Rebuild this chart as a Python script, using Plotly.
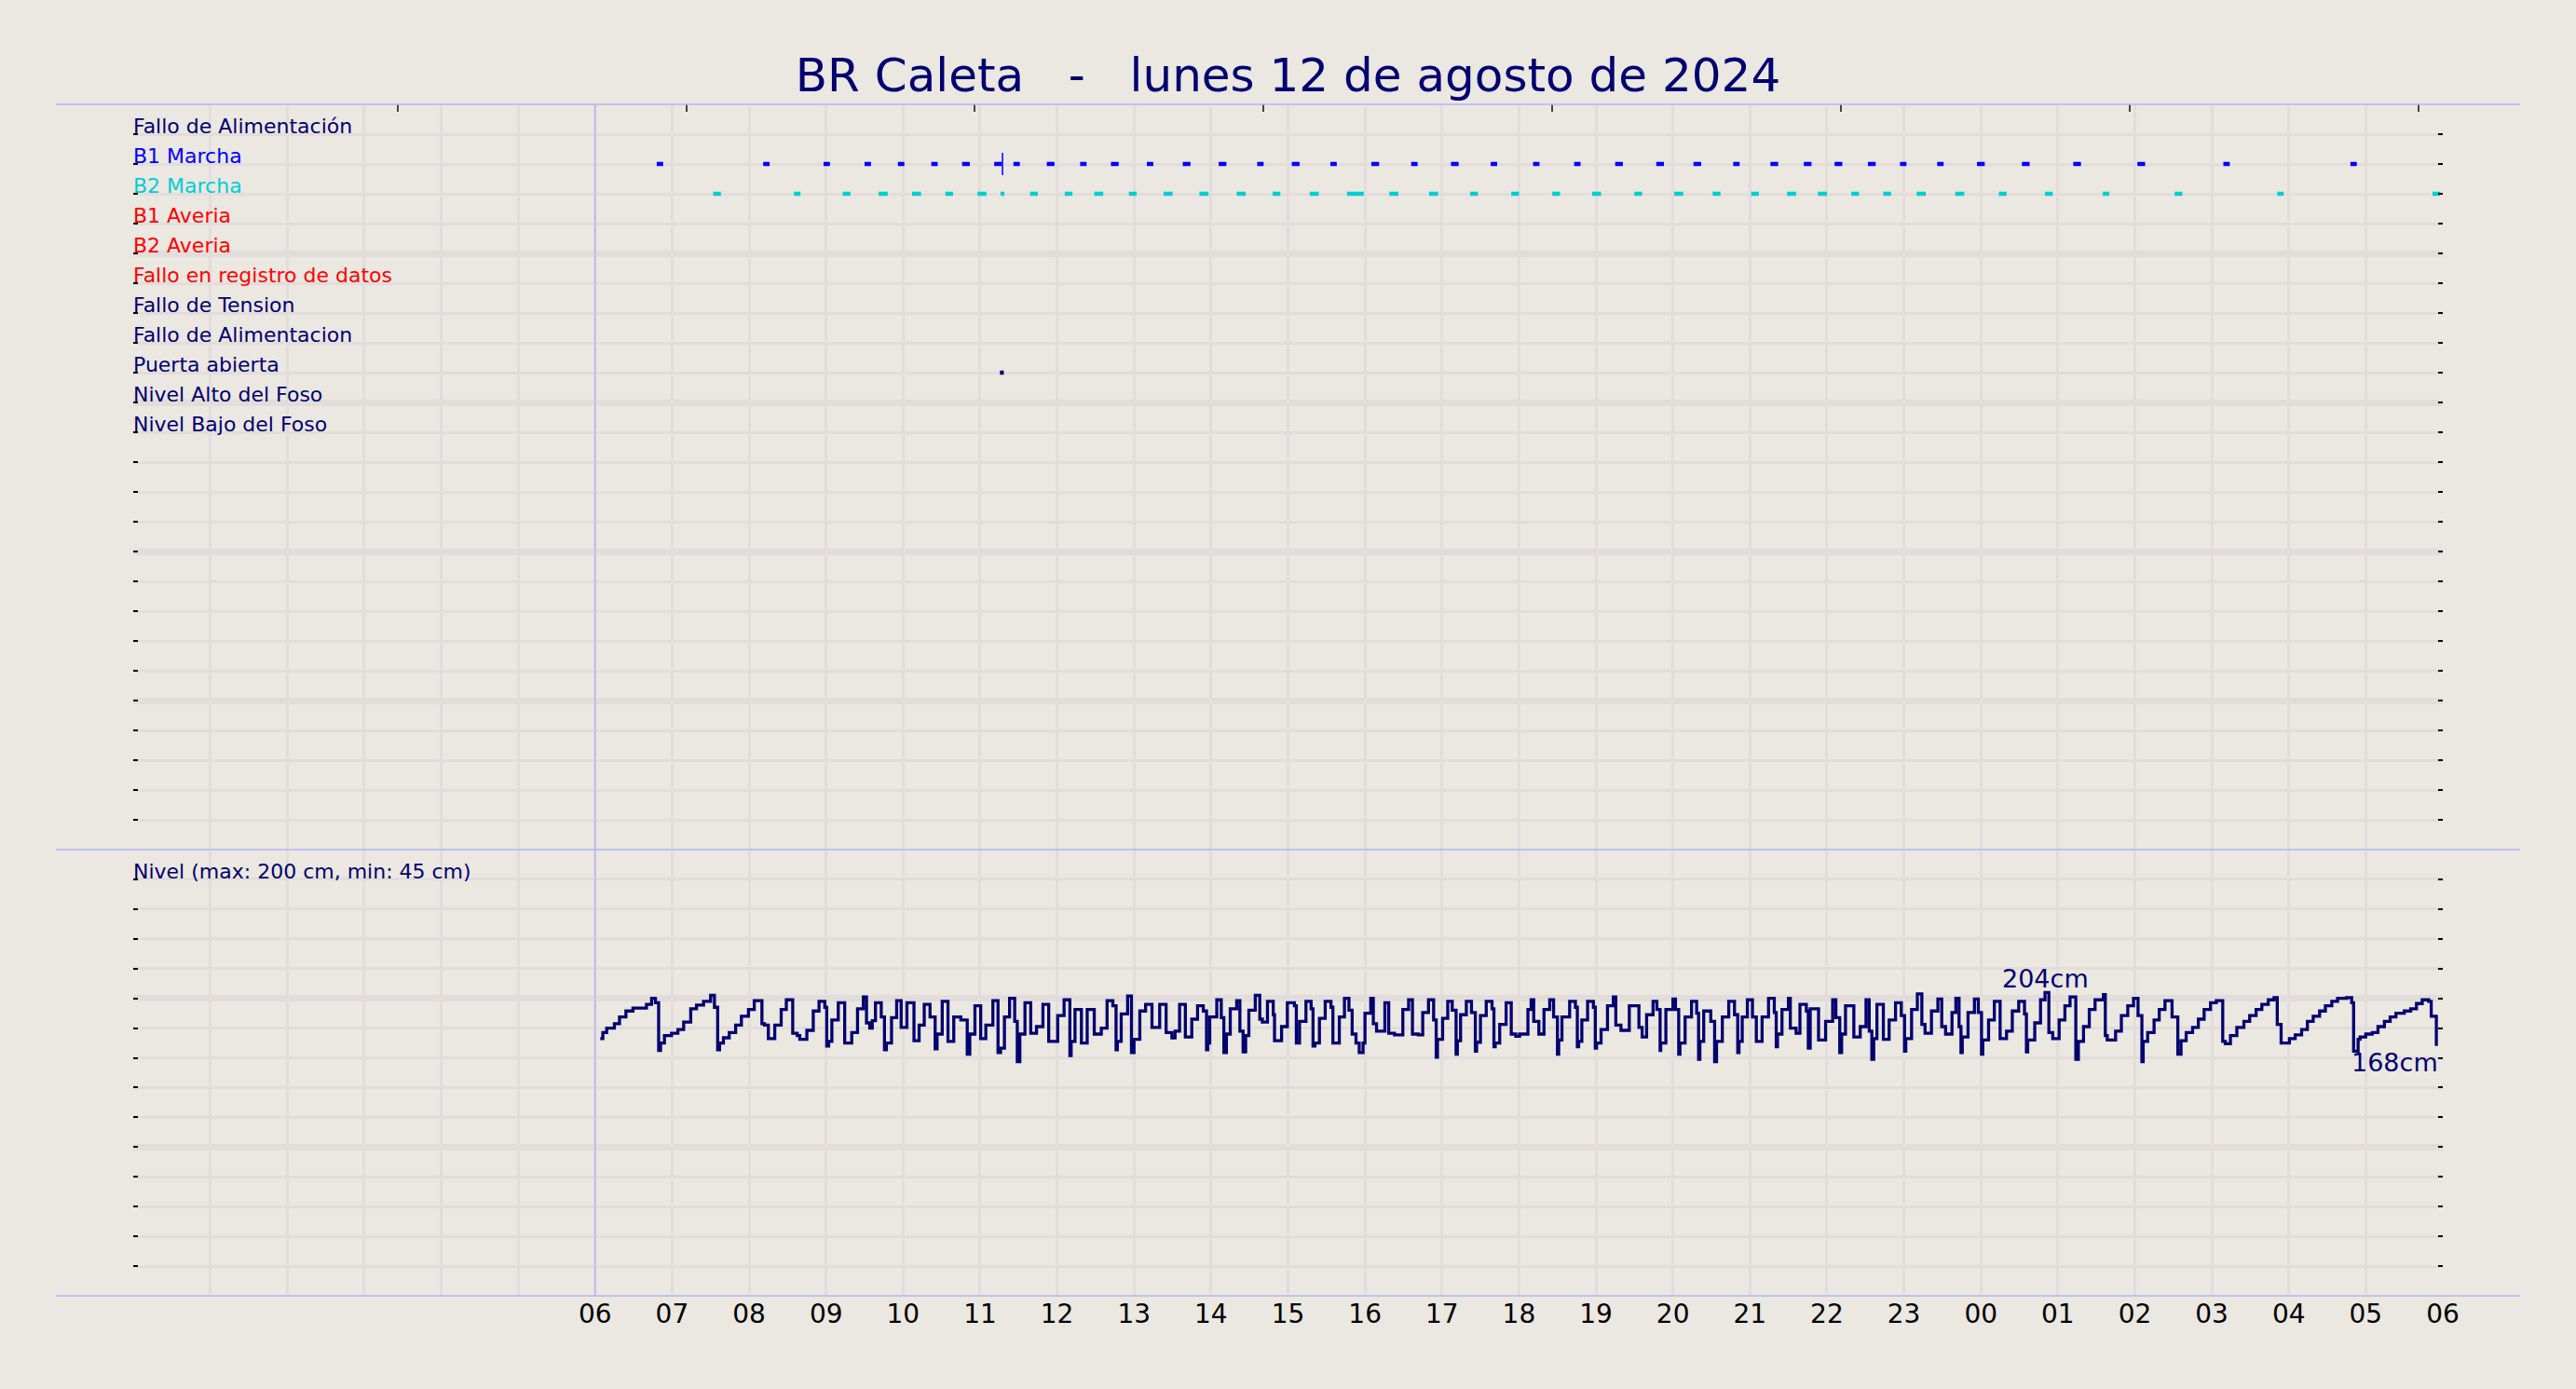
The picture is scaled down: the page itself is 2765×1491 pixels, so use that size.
import pandas as pd
import plotly.graph_objects as go

NAVY = "#000070"
AZUL = "#0000ff"
CIAN = "#00ced1"
ROJO = "#ff0000"
FONDO = "#ebe7e1"
REJILLA = "#e2dddb"
LINEA = "#b4b4f5"

# Filas del panel superior (fila 1 arriba)
filas = ["Fallo de Alimentación", "B1 Marcha", "B2 Marcha", "B1 Averia", "B2 Averia",
         "Fallo en registro de datos", "Fallo de Tension", "Fallo de Alimentacion",
         "Puerta abierta", "Nivel Alto del Foso", "Nivel Bajo del Foso"]
colores_filas = [NAVY, AZUL, CIAN, ROJO, ROJO, ROJO, NAVY, NAVY, NAVY, NAVY, NAVY]

# Eventos, en minutos desde las 06:00
b1_inicio = [48, 131, 178, 210, 236, 262, 286, 311, 326, 352, 378, 402, 430, 458, 486, 516, 543, 573, 605, 636,
             667, 698, 731, 763, 795, 827, 856, 887, 916, 942, 966, 992, 1017, 1046, 1077, 1112, 1152, 1202, 1269, 1368]
b1_fin = [53, 136, 183, 215, 241, 267, 292, 317, 331, 358, 383, 408, 435, 464, 492, 521, 549, 578, 611, 641,
          673, 703, 736, 768, 801, 833, 862, 892, 922, 948, 972, 998, 1022, 1051, 1083, 1118, 1158, 1208, 1274, 1373]
b2_inicio = [92, 155, 193, 221, 247, 273, 298, 316, 339, 366, 389, 416, 443, 471, 500, 528, 557, 586, 619, 650,
             682, 714, 746, 777, 810, 841, 871, 901, 929, 953, 979, 1004, 1030, 1060, 1094, 1130, 1175, 1231, 1311, 1432]
b2_fin = [98, 160, 199, 228, 254, 279, 305, 319, 345, 372, 396, 422, 450, 478, 507, 534, 564, 599, 626, 657,
          688, 720, 752, 784, 816, 848, 877, 907, 936, 960, 985, 1010, 1037, 1067, 1100, 1136, 1180, 1237, 1316, 1438]
b1_marca = [317.5]
puerta_inicio = [315.5]
puerta_fin = [318.5]

# Nivel del foso (minuto desde las 06:00, cm)
nivel_manana = [
    (4, 173), (6, 177), (9, 180), (15, 183), (19, 187.5), (24, 191.5), (29.5, 193.5), (40, 196), (44, 200), (47, 197),
    (49.5, 165), (51, 170), (54, 175), (59.5, 176.5), (64.5, 179), (69, 184), (74.5, 193), (79, 195.5), (84.5, 198), (90, 202),
    (93, 194), (95.5, 165.5), (97, 170), (100, 173.5), (104.5, 177), (109.5, 182), (114, 188), (119.5, 192.5), (124, 198.5), (130, 183),
    (132, 182), (135, 173), (140, 182), (145, 192.5), (149, 199), (154, 176.5), (157.5, 175), (159.5, 172.5), (165, 178.5), (170, 191.5),
    (174.5, 198), (179, 194), (180.5, 168), (182, 171), (184.5, 185.5), (189.5, 197), (194.5, 170), (200, 177), (204.5, 193), (209, 201),
    (211.5, 183.5), (214, 180), (216, 185), (218.5, 197), (223, 187.5), (225.5, 165.5), (227, 170), (231, 187), (235, 198.5), (238.5, 180.5),
    (243, 197), (248.5, 171.5), (252.5, 182), (256.5, 196), (261, 187.5), (265, 166), (266.5, 176), (270.5, 198), (275, 171), (279.5, 187.5),
    (285, 185.5), (290, 162.5), (292, 176), (296, 195), (300.5, 173), (304.5, 182), (310, 198.5), (314, 163.5), (316, 166.5), (319, 187.5),
    (323, 200), (327, 184.5), (329, 157.5), (331, 176), (335, 197), (339.5, 176.5), (344, 181), (349, 196), (353.5, 171), (360.5, 188.5),
    (365.5, 199), (370, 161.5), (371, 171), (374, 192.5), (379, 170), (383.5, 192.5), (389, 176), (394.5, 180), (399, 198.5), (403.5, 195),
    (406, 165.5), (407, 171), (410, 189.5), (415, 201.5), (418, 163.5), (420, 172.5), (424.5, 191.5), (429, 196), (434, 180.5), (440, 196),
    (445, 177), (449.5, 173.5), (452, 178), (455.5, 196), (460, 174), (465, 186), (469.5, 195), (474, 191.5), (476.5, 165.5),
]
nivel_tarde = [
    (477.5, 170), (479, 187.5), (484.5, 199), (488, 187), (490, 163.5), (492, 176), (495, 193), (500, 198.5), (502.5, 178), (505, 164),
    (507, 175), (509.5, 192), (514.5, 202), (518, 186), (520, 184), (524, 198), (528.5, 189), (529.5, 171.5), (535, 181), (539.5, 197),
    (545, 195), (546.5, 170), (549, 184.5), (554, 198), (558, 193), (559.5, 168), (561, 170), (564.5, 186.5), (569, 198), (573.5, 194),
    (575, 170), (580, 187.5), (584, 200), (587.5, 192), (590, 176), (593, 170), (595.5, 163.5), (598.5, 170), (600, 190), (604.5, 200),
    (606.5, 183), (609, 178), (615.5, 197), (618.5, 176.5), (623, 175.5), (629.5, 192.5), (634, 199), (637, 176), (641.5, 175.5), (645, 190.5),
    (649.5, 199), (653.5, 185.5), (655.5, 160.5), (656.5, 172.5), (660.5, 186.5), (664.5, 198), (668, 192), (671, 162.5), (672, 171.5), (674.5, 189),
    (679, 198), (683, 190.5), (686, 164.5), (687, 170.5), (690, 188.5), (694.5, 198), (699, 193), (700.5, 167.5), (701.5, 170), (705, 182.5),
    (710, 197), (714, 176), (717.5, 174.5), (720.5, 176), (727, 192.5), (729.5, 199), (731.5, 184.5), (735.5, 176), (739.5, 192.5), (744, 199),
    (747, 187.5), (750, 162.5), (751, 172), (753.5, 187.5), (759.5, 198), (764, 194), (765.5, 167.5), (766.5, 171), (769, 185.5), (773.5, 198),
    (778, 194), (779.5, 166.5), (780.5, 170), (784, 179), (789, 195), (793.5, 201), (795.5, 182), (799.5, 178.5), (806, 195), (813.5, 180.5),
    (816, 174), (819.5, 189), (824.5, 198), (827.5, 192.5), (830, 165), (830.5, 170), (834.5, 192.5), (840, 199.5), (842, 192.5), (844.5, 162.5),
    (845.5, 170), (849.5, 187.5), (854.5, 198), (858.5, 190), (860, 159), (861, 171), (864, 191.5), (869.5, 184.5), (872.5, 157.5), (874, 171),
    (878.5, 187.5), (883.5, 198), (888, 189), (890.5, 163.5), (891.5, 171), (894, 187.5), (898, 199), (902, 187.5), (905, 171), (909.5, 187.5),
    (914.5, 200), (919, 190.5), (920.5, 167.5), (921.5, 176), (925, 192.5), (930, 200), (931.5, 180), (936, 176.5), (939, 196), (944, 191.5),
    (945.5, 166.5), (947, 193),
]
nivel_noche = [
    (953.5, 172), (959, 184.5), (964.5, 199), (967, 187), (970, 163.5), (971.5, 176), (974.5, 195), (981, 174), (986, 181), (990.5, 199),
    (993, 178), (995, 159), (996.5, 173), (999, 196), (1004, 172.5), (1008.5, 185.5), (1013.5, 197), (1018, 188.5), (1020.5, 164.5), (1021.5, 173),
    (1026, 192.5), (1030.5, 203), (1034, 182.5), (1036.5, 176.5), (1041.5, 191.5), (1046.5, 199.5), (1049.5, 181), (1052.5, 176), (1057.5, 190.5), (1060.5, 200),
    (1063, 181), (1064.5, 163.5), (1065.5, 174), (1070, 190.5), (1075, 199.5), (1078, 190.5), (1080.5, 162.5), (1081.5, 172), (1086, 185.5), (1090.5, 198),
    (1095, 173), (1100, 178), (1104.5, 191.5), (1109.5, 198), (1114, 189.5), (1115.5, 164), (1116.5, 172), (1122, 183.5), (1126.5, 199), (1130, 204),
    (1133, 177), (1136, 173), (1141, 185.5), (1145.5, 195), (1149.5, 201), (1154, 159), (1156, 171), (1160, 181), (1164.5, 192.5), (1169, 199),
    (1175.5, 202.5), (1177, 175), (1178.5, 172), (1185, 178), (1189.5, 188.5), (1194.5, 195), (1199, 200), (1202.5, 188.5), (1205.5, 157.5), (1206.5, 171),
    (1210, 177), (1215, 185.5), (1219, 192.5), (1223.5, 198.5), (1229, 187.5), (1233.5, 162.5), (1236, 171.5), (1240, 177), (1245, 180.5), (1249.5, 186),
    (1254, 192.5), (1259, 197), (1263.5, 198.5), (1268.5, 171), (1270.5, 169.5), (1274.5, 175), (1279.5, 180.5), (1285, 184.5), (1289.5, 188.5), (1294.5, 192.5),
    (1299, 196), (1304, 199), (1308.5, 200.5), (1311, 182.5), (1314, 170), (1320.5, 173), (1325, 175.5), (1330, 179), (1334.5, 184.5), (1339, 188),
    (1344, 191.5), (1348.5, 195), (1353.5, 198), (1358, 200), (1365, 200.5), (1369, 197), (1370.5, 164.5), (1374, 172.5), (1375.5, 174), (1380, 176),
    (1385, 177), (1389.5, 181), (1394.5, 184.5), (1399, 187.5), (1403.5, 190), (1410, 191.5), (1415, 193), (1419.5, 196.5), (1424, 199), (1429, 198),
    (1431, 188), (1435, 168),
]

# Eje horario: 00:00 del dia 12 a 06:00 del dia 13, etiquetas solo desde las 06
horas = ["", "", "", "", "", "", "06", "07", "08", "09", "10", "11", "12", "13", "14", "15", "16",
         "17", "18", "19", "20", "21", "22", "23", "00", "01", "02", "03", "04", "05", "06"]
# marcas del borde superior, minutos desde las 00:00
marcas_sup = [206, 431, 656, 881, 1106, 1331, 1556, 1781]

base = pd.Timestamp("2024-08-12 06:00")
origen = pd.Timestamp("2024-08-12 00:00")


def hora(minutos, desde=base):
    return (desde + pd.to_timedelta(minutos, unit="min")).strftime("%Y-%m-%d %H:%M:%S")


def segmentos(inicios, fines, fila):
    xs, ys = [], []
    for a, b in zip(inicios, fines):
        xs += [hora(a), hora(b), None]
        ys += [fila, fila, None]
    return xs, ys


nivel = nivel_manana + nivel_tarde + nivel_noche
nivel_x = [hora(m) for m, _ in nivel]
nivel_y = [v for _, v in nivel]

fig = go.Figure()

for ini, fin, fila, color in [(b1_inicio, b1_fin, 2, AZUL), (b2_inicio, b2_fin, 3, CIAN),
                              (puerta_inicio, puerta_fin, 9, NAVY)]:
    sx, sy = segmentos(ini, fin, fila)
    fig.add_trace(go.Scatter(x=sx, y=sy, mode="lines", line=dict(color=color, width=4.5),
                             xaxis="x", yaxis="y", showlegend=False, hoverinfo="skip"))

fig.add_trace(go.Scatter(x=[hora(m) for m in b1_marca], y=[2] * len(b1_marca), mode="markers",
                         marker=dict(symbol="line-ns", size=17, line=dict(color=AZUL, width=1.5)),
                         xaxis="x", yaxis="y", showlegend=False, hoverinfo="skip"))

# traza vacia para el eje de marcas superiores
fig.add_trace(go.Scatter(x=[], y=[], xaxis="x3", yaxis="y", showlegend=False))

fig.add_trace(go.Scatter(x=nivel_x, y=nivel_y, mode="lines", line=dict(color=NAVY, width=3.3, shape="hv"),
                         xaxis="x2", yaxis="y2", showlegend=False))

rango = [origen.strftime("%Y-%m-%d %H:%M"), "2024-08-13 06:00"]
ticks_horas = [hora(60 * i, origen) for i in range(len(horas))]
corte = 479 / 1279

eje_x = dict(type="date", range=rango, showgrid=True, gridcolor=REJILLA, gridwidth=2.5,
             zeroline=False, showline=False, fixedrange=True)
eje_y = dict(showticklabels=False, zeroline=False, showline=False, ticks="inside", ticklen=5,
             tickwidth=2, tickcolor="black", mirror="ticks", gridcolor=REJILLA, gridwidth=7)
menor = dict(ticks="inside", ticklen=5, tickwidth=2, tickcolor="black", showgrid=True,
             gridcolor=REJILLA, gridwidth=2.5)

fig.update_layout(
    width=2765, height=1491,
    paper_bgcolor=FONDO, plot_bgcolor=FONDO,
    font=dict(family="DejaVu Sans", color=NAVY),
    margin=dict(l=143, r=143, t=112, b=100),
    title=dict(text="BR Caleta\u00a0\u00a0\u00a0-\u00a0\u00a0\u00a0lunes 12 de agosto de 2024",
               x=0.5, xanchor="center", y=1 - 80 / 1491, yanchor="middle",
               font=dict(size=50, color=NAVY)),
    xaxis=dict(eje_x, anchor="y", tickmode="array", tickvals=ticks_horas, showticklabels=False, ticks=""),
    xaxis2=dict(eje_x, anchor="y2", tickmode="array", tickvals=ticks_horas, ticktext=horas, ticks="",
                tickfont=dict(size=28, color="black")),
    xaxis3=dict(type="date", range=rango, overlaying="x", anchor="y", side="top", showgrid=False,
                tickmode="array", tickvals=[hora(m, origen) for m in marcas_sup], ticks="inside",
                ticklen=8, tickwidth=1.5, tickcolor="#444444", showticklabels=False, zeroline=False),
    yaxis=dict(eje_y, domain=[corte, 1], range=[25, 0], dtick=5, minor=dict(menor, dtick=1)),
    yaxis2=dict(eje_y, domain=[0, corte], range=[0, 300], dtick=100, minor=dict(menor, dtick=20)),
)

anot = []
for i, (txt, col) in enumerate(zip(filas, colores_filas)):
    anot.append(dict(text=txt, x=0, xref="paper", xanchor="left", y=i + 1, yref="y", yanchor="bottom",
                     showarrow=False, font=dict(size=22, color=col), xshift=-2, yshift=-6))
anot.append(dict(text="Nivel (max: 200 cm, min: 45 cm)", x=0, xref="paper", xanchor="left", y=280, yref="y2",
                 yanchor="bottom", showarrow=False, font=dict(size=22, color=NAVY), xshift=-2, yshift=-6))

i_max = max(range(len(nivel_y)), key=lambda k: nivel_y[k])
anot.append(dict(text=f"{nivel_y[i_max]:.0f}cm", x=nivel_x[i_max], y=nivel_y[i_max], xref="x2", yref="y2",
                 xanchor="center", yanchor="bottom", showarrow=False, font=dict(size=27, color=NAVY), yshift=-3))
anot.append(dict(text=f"{nivel_y[-1]:.0f}cm", x=nivel_x[-1], y=nivel_y[-1], xref="x2", yref="y2",
                 xanchor="right", yanchor="top", showarrow=False, font=dict(size=27, color=NAVY), xshift=4))
fig.update_layout(annotations=anot)

# lineas de separacion y linea de las 06:00
ext = 83 / 2479
formas = [dict(type="line", xref="paper", yref="paper", x0=-ext, x1=1 + ext, y0=y, y1=y,
               line=dict(color=LINEA, width=1.5)) for y in (0, corte, 1)]
formas.append(dict(type="line", xref="x", yref="paper", x0=hora(0), x1=hora(0), y0=0, y1=1,
                   line=dict(color=LINEA, width=1.5)))
fig.update_layout(shapes=formas)

fig.write_html("out.html", config={"displayModeBar": False},
               post_script="document.body.style.margin='0';")
